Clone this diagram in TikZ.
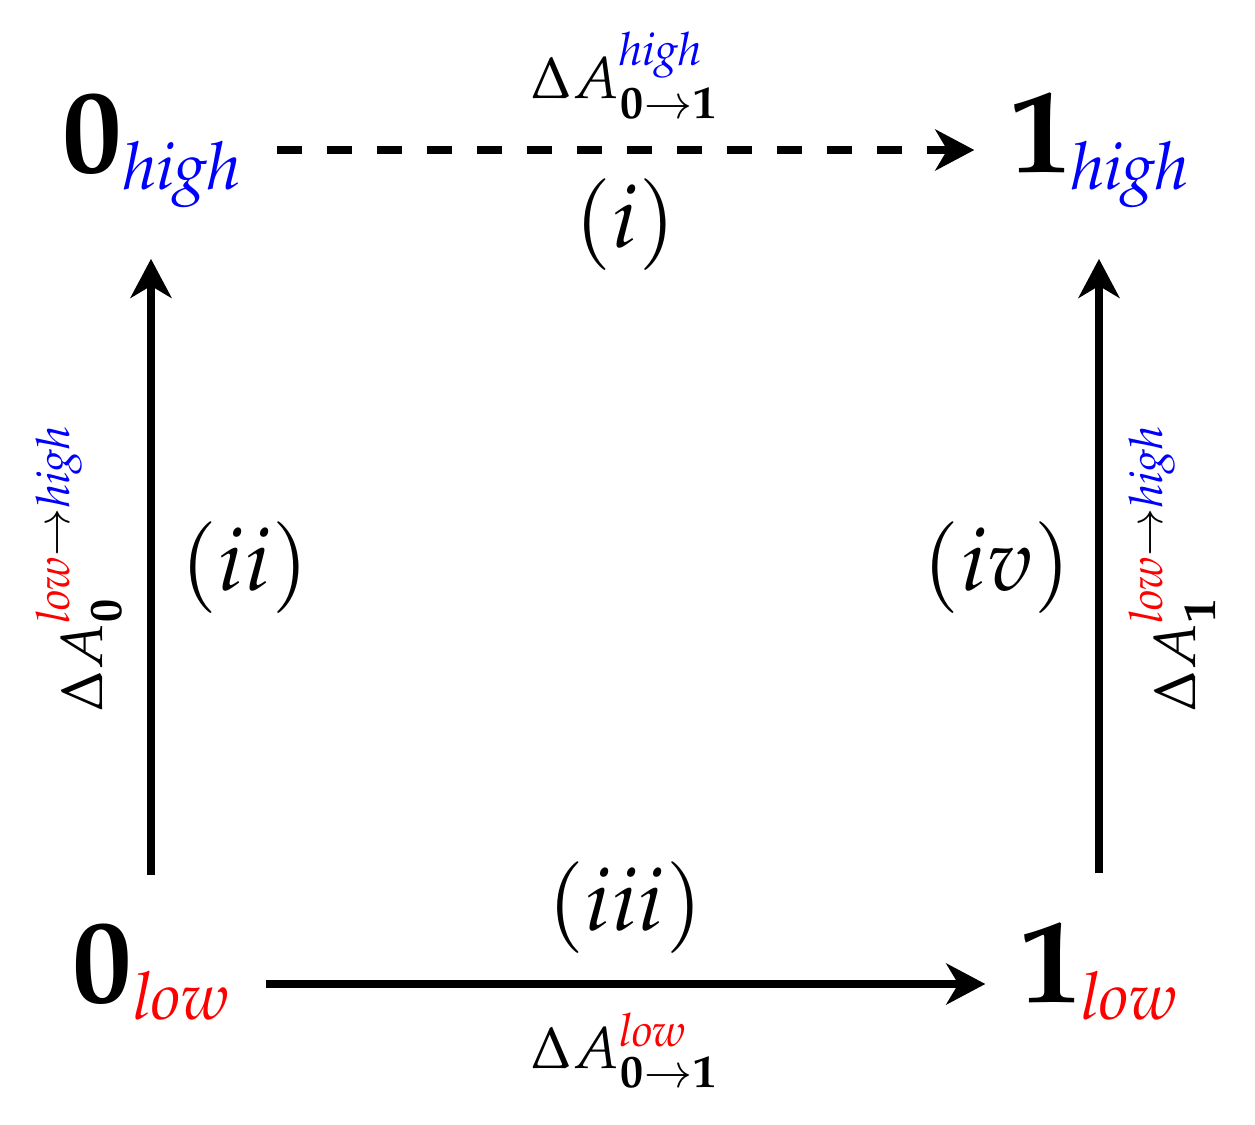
\documentclass[tikz,border=0pt]{standalone}
\usepackage{mathpazo}
\usepackage{xcolor}
\usetikzlibrary{arrows.meta}
\DeclareMathSizes{29.75}{29.75}{16.5}{12}
\DeclareMathSizes{14.75}{14.75}{11.5}{8}
\DeclareMathSizes{22}{22}{15.4}{11}
\begin{document}
\begin{tikzpicture}[x=0.25pt,y=-0.25pt,
  state/.style={inner sep=0pt, anchor=base, font=\fontsize{29.75}{34}\selectfont},
  lab/.style={inner sep=0pt, anchor=base, font=\fontsize{14.75}{17}\selectfont},
  num/.style={inner sep=0pt, font=\fontsize{22}{26}\selectfont},
  conn/.style={line width=2pt, -{Stealth[length=9.75pt,width=10.25pt,inset=3pt]}},
  dashline/.style={dash pattern=on 6.25pt off 6.25pt}]
\useasboundingbox[fill=white] (0,0) rectangle (1255,1125);
\node[state] (h0) at (152,172) {$\mathbf{0}_{\textcolor{blue}{\mathit{high}}}$};
\node[state] (h1) at (1100,172) {$\mathbf{1}_{\textcolor{blue}{\mathit{high}}}$};
\node[state] (l0) at (151,1002) {$\mathbf{0}_{\textcolor{red}{\mathit{low}}}$};
\node[state] (l1) at (1099,1002) {$\mathbf{1}_{\textcolor{red}{\mathit{low}}}$};
% connectors
\draw[conn,dashline] ([xshift=8.25pt,yshift=5.5pt]h0.base east) -- ([xshift=-8.5pt,yshift=5.5pt]h1.base west);
\draw[conn] ([xshift=8.5pt,yshift=4.5pt]l0.base east) -- ([xshift=-8.25pt,yshift=4.5pt]l1.base west);
\draw[conn] ([yshift=12pt]l0.north) -- ([yshift=-12.5pt]l0.north |- h0.south);
\draw[conn] ([yshift=12pt]l1.north) -- ([yshift=-12.5pt]l1.north |- h1.south);
% labels
\node[lab] (a01h) at (625,98) {$\Delta A^{\textcolor{blue}{\mathit{high}}}_{\mathbf{0}\to\mathbf{1}}$};
\node[lab] (a01l) at (625,1068) {$\Delta A^{\textcolor{red}{\mathit{low}}}_{\mathbf{0}\to\mathbf{1}}$};
\node[lab,rotate=90] (a0) at (102,568) {$\Delta A^{\textcolor{red}{\mathit{low}}\to\textcolor{blue}{\mathit{high}}}_{\mathbf{0}}$};
\node[lab,rotate=90] (a1) at (1195,568) {$\Delta A^{\textcolor{red}{\mathit{low}}\to\textcolor{blue}{\mathit{high}}}_{\mathbf{1}}$};
\node[num] (ni) at (625,225) {$(i)$};
\node[num] (nii) at (245,568) {$(ii)$};
\node[num] (niii) at (625,908) {$(iii)$};
\node[num] (niv) at (997,568) {$(iv)$};
\end{tikzpicture}
\end{document}
